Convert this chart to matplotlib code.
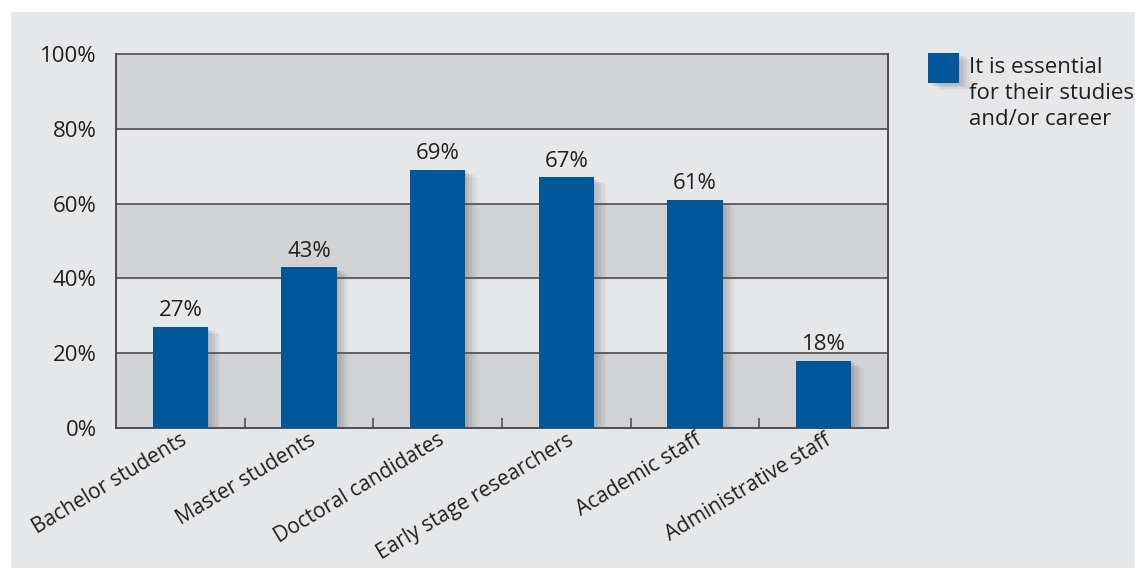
import matplotlib.pyplot as plt
import matplotlib.patheffects as pe
import matplotlib.transforms as mtransforms
from matplotlib.patches import Rectangle
from matplotlib.ticker import FixedLocator

categories = ["Bachelor students", "Master students", "Doctoral candidates",
              "Early stage researchers", "Academic staff", "Administrative staff"]
values = [27, 43, 69, 67, 61, 18]
legend_label = "It is essential\nfor their studies\nand/or career"

bar_color = "#02579b"
bg_color = "#e6e7e9"
band_color = "#d1d2d4"
text_color = "#231f20"
line_color = "#4d4d4f"

plt.rcParams["font.family"] = ["Open Sans", "DejaVu Sans"]

W, H = 1135, 569
fig = plt.figure(figsize=(W / 100, H / 100), dpi=100)
fig.patch.set_facecolor("white")


def soft_shadow():
    # a few faint offset copies to fake a blurred drop shadow
    fx = []
    for dx, dy, a in [(1, -1, 0.10), (3, -2, 0.10), (5, -3, 0.09), (7, -4, 0.07), (9, -5, 0.05)]:
        fx.append(pe.SimplePatchShadow(offset=(dx, dy), shadow_rgbFace="#55565a", alpha=a))
    fx.append(pe.Normal())
    return fx


# gray panel behind everything
fig.add_artist(Rectangle((11 / W, 1 - 568 / H), 1 - 11 / W, (568 - 12) / H,
                         transform=fig.transFigure, facecolor=bg_color,
                         edgecolor="none", zorder=0))

ax = fig.add_axes([116 / W, 1 - 428 / H, (888 - 116) / W, (428 - 54) / H])
ax.set_facecolor(bg_color)
ax.set_zorder(1)

x = list(range(len(categories)))
ax.set_xlim(-0.5, len(categories) - 0.5)
ax.set_ylim(0, 100)

# alternating bands
for lo in (0, 40, 80):
    ax.axhspan(lo, lo + 20, color=band_color, zorder=0)
for y in (20, 40, 60, 80, 100):
    ax.axhline(y, color=line_color, lw=1.2, zorder=1, clip_on=False)

bars = ax.bar(x, values, width=0.43, color=bar_color, zorder=3)
for b in bars:
    b.set_path_effects(soft_shadow())

for xi, v in zip(x, values):
    ax.text(xi, v + 1.5, f"{v}%", ha="center", va="bottom",
            fontsize=16, color=text_color, zorder=4)

ax.set_yticks([0, 20, 40, 60, 80, 100])
ax.set_yticklabels([f"{t}%" for t in [0, 20, 40, 60, 80, 100]],
                   fontsize=16, color=text_color)
ax.tick_params(axis="y", length=0, pad=14)

ax.set_xticks(x)
ax.set_xticklabels(categories, rotation=31, ha="right", rotation_mode="anchor",
                   fontsize=15, color=text_color)
# nudge rotated labels a bit right so they end just past the bar centre
shift = mtransforms.ScaledTranslation(6 / 100, 0, fig.dpi_scale_trans)
for lbl in ax.get_xticklabels():
    lbl.set_transform(lbl.get_transform() + shift)
ax.tick_params(axis="x", which="major", length=0, pad=1)
ax.xaxis.set_minor_locator(FixedLocator([i + 0.5 for i in range(len(categories) - 1)]))
ax.tick_params(axis="x", which="minor", direction="in", length=7, width=1.2,
               color=line_color)

ax.spines["top"].set_visible(False)
for s in ("left", "bottom", "right"):
    ax.spines[s].set_color(line_color)
    ax.spines[s].set_linewidth(1.4)

# legend
sq = Rectangle((928 / W, 1 - 83 / H), 31 / W, 30 / H, transform=fig.transFigure,
               facecolor=bar_color, edgecolor="none", zorder=3)
sq.set_path_effects(soft_shadow())
fig.add_artist(sq)
fig.text(969 / W, 1 - 57 / H, legend_label, ha="left", va="top", fontsize=16,
         color=text_color, linespacing=1.32)

fig.savefig("out.png", dpi=100)
